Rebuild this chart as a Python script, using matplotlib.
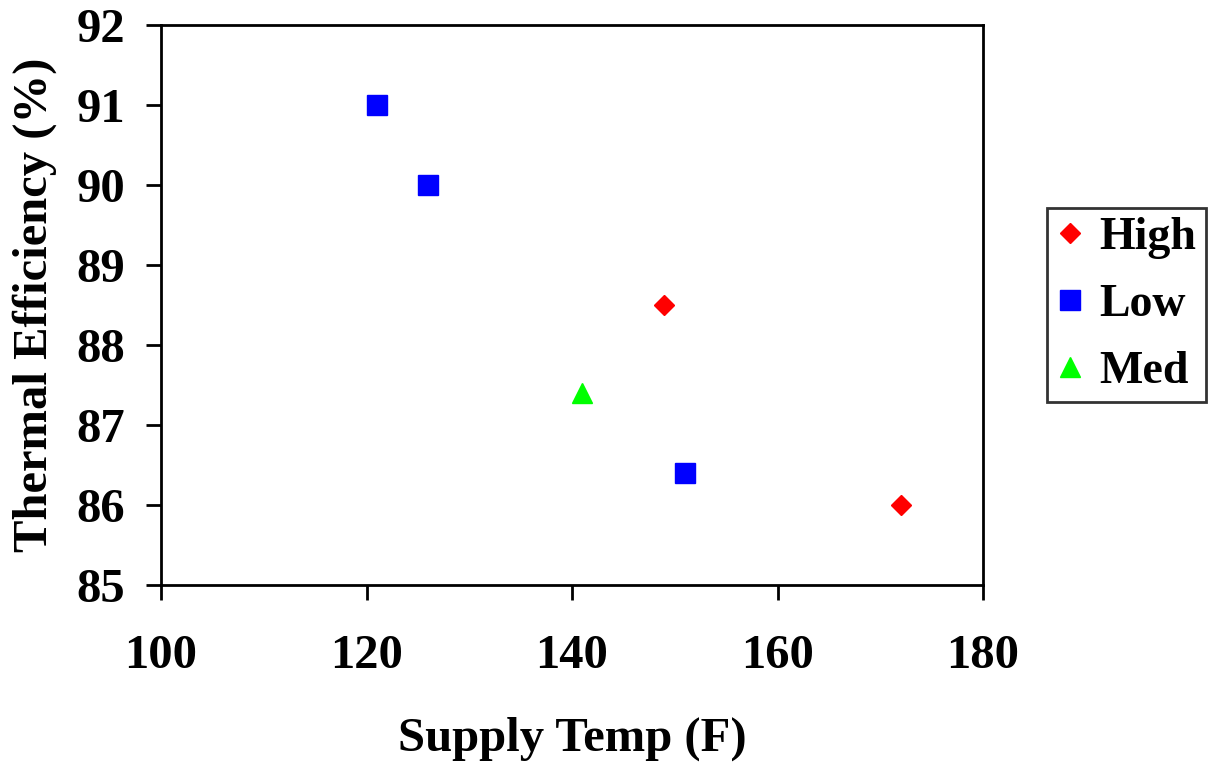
import matplotlib
matplotlib.use('Agg')
import matplotlib.pyplot as plt

plt.rcParams['font.family'] = ['Liberation Serif', 'DejaVu Serif']
plt.rcParams['font.weight'] = 'bold'

# data
high_temp = [149, 172]
high_eff = [88.5, 86.0]
low_temp = [121, 126, 151]
low_eff = [91.0, 90.0, 86.4]
med_temp = [141]
med_eff = [87.4]

fig = plt.figure(figsize=(12.19, 7.62), dpi=100)
ax = fig.add_axes([161 / 1219, 1 - 585 / 762, 822 / 1219, 560 / 762])

ax.plot(high_temp, high_eff, linestyle='none', marker='D', markersize=10.5,
        color='#ff0000', label='High')
ax.plot(low_temp, low_eff, linestyle='none', marker='s', markersize=14.5,
        color='#0000ff', label='Low')
ax.plot(med_temp, med_eff, linestyle='none', marker='^', markersize=14,
        color='#00ff00', label='Med')

ax.set_xlim(100, 180)
ax.set_ylim(85, 92)
ax.set_xticks([100, 120, 140, 160, 180])
ax.set_yticks(range(85, 93))

for sp in ax.spines.values():
    sp.set_linewidth(2)
ax.tick_params(direction='out', length=11, width=2, labelsize=35)
ax.tick_params(axis='y', pad=15)
ax.tick_params(axis='x', pad=24)

ax.set_xlabel('Supply Temp (F)', fontsize=35, fontweight='bold', labelpad=28)
ax.set_ylabel('Thermal Efficiency (%)', fontsize=35, fontweight='bold', labelpad=14)

leg = ax.legend(loc='center left', bbox_to_anchor=(886 / 822, 0.5),
                fontsize=33, frameon=True, fancybox=False, edgecolor='black',
                handletextpad=0.35, handlelength=0.6, borderpad=0.2,
                labelspacing=0.54, borderaxespad=0)
leg.get_frame().set_linewidth(2)

fig.savefig('out.png', dpi=100)
